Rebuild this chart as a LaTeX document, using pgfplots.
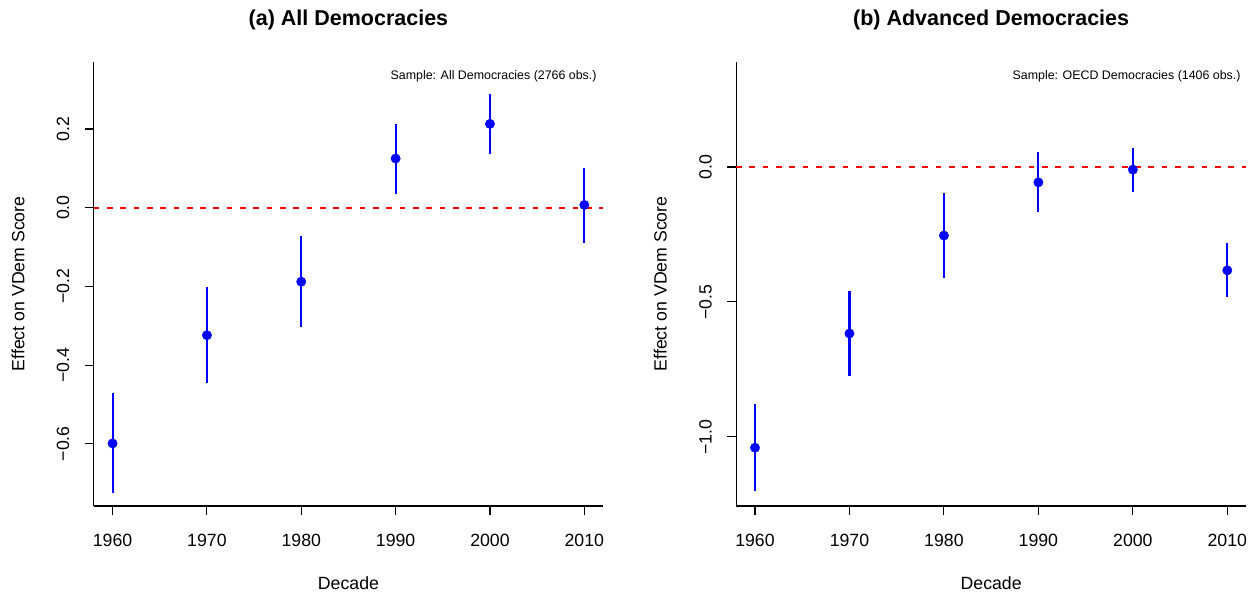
\documentclass[border=0pt]{standalone}
\usepackage{pgfplots}
\pgfplotsset{compat=1.18}
\usepackage{pgfplotstable}
\usepackage{fontspec}
\setmainfont{Liberation Sans}
\definecolor{rblue}{RGB}{0,0,255}
\definecolor{rred}{RGB}{255,0,0}

% x: decade, y: estimate, ep: upper - estimate, em: estimate - lower
\pgfplotstableread{
x     y       ep     em
1960  -0.599  0.127  0.127
1970  -0.324  0.123  0.121
1980  -0.188  0.117  0.116
1990   0.125  0.087  0.089
2000   0.213  0.075  0.076
2010   0.007  0.095  0.096
}\dataA
\pgfplotstableread{
x     y       ep     em
1960  -1.040  0.161  0.159
1970  -0.617  0.158  0.157
1980  -0.254  0.156  0.158
1990  -0.057  0.111  0.111
2000  -0.010  0.082  0.081
2010  -0.383  0.100  0.098
}\dataB

\pgfplotsset{
  rstyle/.style={
    anchor=south west,
    scale only axis,
    height=444.3pt,
    xmin=1958, xmax=2012,
    axis x line*=bottom, axis y line*=left,
    axis line style={line width=1.1pt, -, black},
    major tick style={line width=1.1pt, black},
    tick align=outside,
    major tick length=9pt,
    xtick={1960,1970,1980,1990,2000,2010},
    xticklabels={1960,1970,1980,1990,2000,2010},
    ticklabel style={font=\fontsize{17.7}{20}\selectfont},
    xticklabel style={anchor=center, yshift=-25pt},
    yticklabel style={anchor=center, rotate=90, yshift=21.7pt},
    label style={font=\fontsize{17.7}{20}\selectfont},
    xlabel={Decade},
    ylabel={Effect on VDem Score},
    xlabel style={at={(axis description cs:0.5,-0.1733)}, anchor=center},
    ylabel style={at={(axis description cs:-0.1486,0.5)}, anchor=center},
    title style={at={(axis description cs:0.5,1.0961)}, anchor=center, yshift=-7pt, font=\fontsize{21.5}{24}\selectfont\bfseries},
    clip=false,
  },
  ebar/.style={draw=none, no marks, forget plot,
    error bars/.cd, y dir=both, y explicit, error mark=none,
    error bar style={line width=2.1pt, rblue}},
  pts/.style={only marks, mark=*, mark size=4.7pt, color=rblue, mark options={fill=rblue, draw=rblue}},
  zline/.style={rred, line width=1.7pt, dash pattern=on 5.7pt off 7.6pt},
}

\begin{document}
\begin{tikzpicture}
\path[use as bounding box] (0,0) rectangle (1255pt,594pt);

\begin{axis}[rstyle,
  at={(93.7pt,88pt)}, width=509.5pt,
  ymin=-0.758, ymax=0.371,
  ytick={-0.6,-0.4,-0.2,0,0.2},
  yticklabels={−0.6,−0.4,−0.2,0.0,0.2},
  title={(a) All Democracies},
]
\addplot[zline] coordinates {(1958,0) (2012,0)};
\addplot[ebar] table[x=x, y=y, y error plus=ep, y error minus=em] {\dataA};
\addplot[pts] table[x=x, y=y] {\dataA};
\node[anchor=east, font=\fontsize{12.4}{14}\selectfont, inner sep=0pt] at (rel axis cs:1,1) [xshift=-6.5pt, yshift=-14.3pt] {Sample: All Democracies (2766 obs.)};
\end{axis}

\begin{axis}[rstyle,
  at={(736.1pt,88pt)}, width=510.1pt,
  ymin=-1.256, ymax=0.390,
  ytick={-1,-0.5,0},
  yticklabels={−1.0,−0.5,0.0},
  title={(b) Advanced Democracies},
]
\addplot[zline] coordinates {(1958,0) (2012,0)};
\addplot[ebar] table[x=x, y=y, y error plus=ep, y error minus=em] {\dataB};
\addplot[pts] table[x=x, y=y] {\dataB};
\node[anchor=east, font=\fontsize{12.4}{14}\selectfont, inner sep=0pt] at (rel axis cs:1,1) [xshift=-5.5pt, yshift=-14.3pt] {Sample: OECD Democracies (1406 obs.)};
\end{axis}
\end{tikzpicture}
\end{document}
